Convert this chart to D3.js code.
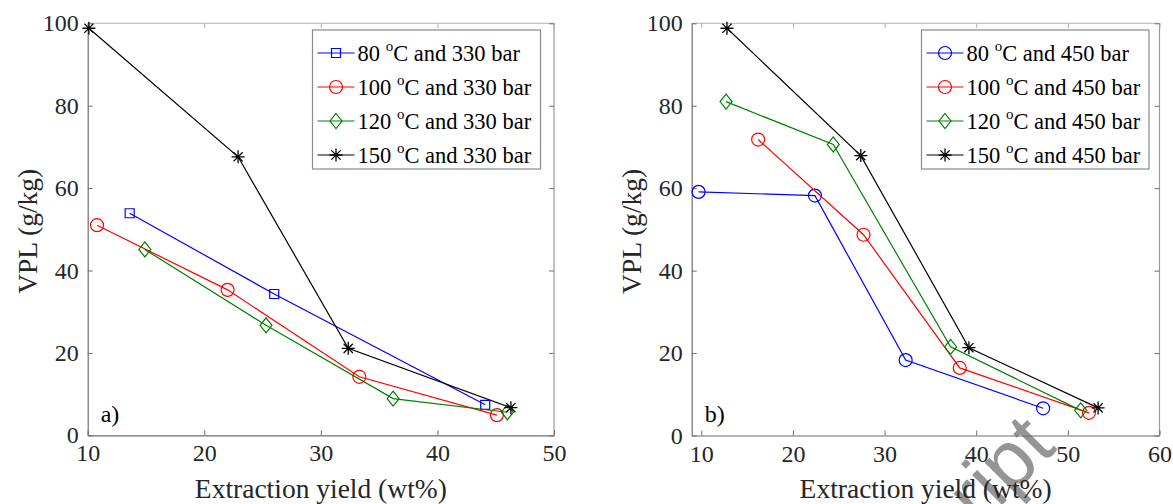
<!DOCTYPE html>
<html>
<head>
<meta charset="utf-8">
<script src="https://cdn.jsdelivr.net/npm/d3@7"></script>
<style>
  body { margin: 0; background: #fff; }
  svg { display: block; }
</style>
</head>
<body>
<div id="chart"></div>
<script>
// VPL vs extraction yield, two pressures (330 bar / 450 bar)

// panel a) 330 bar
const yieldA80 = [13.6, 26.0, 44.1];
const vplA80 = [53.9, 34.3, 7.4];
const yieldA100 = [10.8, 22.0, 33.3, 45.1];
const vplA100 = [51.0, 35.3, 14.2, 4.9];
const yieldA120 = [14.9, 25.3, 36.2, 46.0];
const vplA120 = [45.1, 26.7, 8.9, 5.6];
const yieldA150 = [10.1, 22.9, 32.35, 46.3];
const vplA150 = [98.8, 67.6, 21.1, 6.7];

// panel b) 450 bar
const yieldB80 = [9.7, 22.4, 32.3, 47.3];
const vplB80 = [59.1, 58.2, 18.3, 6.6];
const yieldB100 = [16.2, 27.7, 38.2, 52.3];
const vplB100 = [71.8, 48.7, 16.4, 5.5];
const yieldB120 = [12.7, 24.4, 37.2, 51.4];
const vplB120 = [81.0, 70.6, 21.5, 6.1];
const yieldB150 = [12.8, 27.4, 39.2, 53.3];
const vplB150 = [98.8, 67.9, 21.3, 6.7];

const legendA = ['80', '100', '120', '150'];
const legendB = ['80', '100', '120', '150'];
const xTicksA = [10, 20, 30, 40, 50];
const xTicksB = [10, 20, 30, 40, 50, 60];
const yTicks = [0, 20, 40, 60, 80, 100];

const W = 1173, H = 504;
const serif = "'Liberation Serif', 'DejaVu Serif', serif";

const svg = d3.select('#chart').append('svg')
    .attr('width', W)
    .attr('height', H)
    .attr('font-family', serif);

// faint watermark fragment from the source page (drawn first, sits behind)
svg.append('text')
    .attr('transform', 'translate(1058,449) rotate(-45)')
    .attr('text-anchor', 'end')
    .attr('fill', '#8a8a8a')
    .attr('fill-opacity', 0.9)
    .attr('font-family', "'Liberation Sans', Arial, sans-serif")
    .attr('font-size', 80)
    .text('Manuscript');

function zipSeries(xs, ys) {
    return xs.map((x, i) => ({ x: x, y: ys[i] }));
}

// marker shapes
function markerPath(kind) {
    if (kind === 'diamond') return 'M0,-7.5L6,0L0,7.5L-6,0Z';
    if (kind === 'star') return 'M0,-6.5V6.5M-6.5,0H6.5M-4.6,-4.6L4.6,4.6M-4.6,4.6L4.6,-4.6';
    if (kind === 'square') return 'M-4.5,-4.5H4.5V4.5H-4.5Z';
    return null;
}

function drawMarker(g, kind, color, x, y) {
    if (kind === 'circle') {
        g.append('circle')
            .attr('cx', x).attr('cy', y).attr('r', 6.5)
            .attr('fill', 'none').attr('stroke', color).attr('stroke-width', 1.2);
    } else {
        g.append('path')
            .attr('transform', `translate(${x},${y})`)
            .attr('d', markerPath(kind))
            .attr('fill', 'none').attr('stroke', color)
            .attr('stroke-width', kind === 'star' ? 1.3 : 1.2);
    }
}

function drawPanel(cfg) {
    const x = d3.scaleLinear().domain(cfg.xDomain).range([cfg.left, cfg.right]);
    const y = d3.scaleLinear().domain([0, 100]).range([cfg.bottom, cfg.top]);
    const g = svg.append('g');

    // frame
    g.append('line').attr('x1', cfg.left).attr('x2', cfg.right)
        .attr('y1', cfg.top).attr('y2', cfg.top)
        .attr('stroke', '#c4c4c4').attr('stroke-width', 1.2);
    g.append('line').attr('x1', cfg.right).attr('x2', cfg.right)
        .attr('y1', cfg.top).attr('y2', cfg.bottom)
        .attr('stroke', '#9a9a9a').attr('stroke-width', 1.2);

    // axes via d3 axis, ticks drawn inward
    const xAxis = g.append('g')
        .attr('transform', `translate(0,${cfg.bottom})`)
        .call(d3.axisBottom(x).tickValues(cfg.xTicks).tickSizeInner(-5).tickSizeOuter(0).tickPadding(14));
    const yAxis = g.append('g')
        .attr('transform', `translate(${cfg.left},0)`)
        .call(d3.axisLeft(y).tickValues(yTicks).tickSizeInner(-5).tickSizeOuter(0).tickPadding(9));
    const xTop = g.append('g')
        .attr('transform', `translate(0,${cfg.top})`)
        .call(d3.axisTop(x).tickValues(cfg.xTicks).tickSizeInner(-5).tickSizeOuter(0).tickFormat(''));
    const yRight = g.append('g')
        .attr('transform', `translate(${cfg.right},0)`)
        .call(d3.axisRight(y).tickValues(yTicks).tickSizeInner(-5).tickSizeOuter(0).tickFormat(''));
    xTop.select('.domain').remove();
    yRight.select('.domain').remove();

    [xAxis, yAxis, xTop, yRight].forEach(a => {
        a.attr('font-family', serif).attr('font-size', 24);
        a.selectAll('.domain').attr('stroke', '#6e6e6e').attr('stroke-width', 1.2);
        a.selectAll('.tick line').attr('stroke', '#6e6e6e').attr('stroke-width', 1);
        a.selectAll('text').attr('fill', '#262626');
    });
    xAxis.selectAll('text').attr('dy', '0.5em');
    xTop.selectAll('.tick line').attr('stroke', '#b0b0b0');

    // axis titles
    g.append('text')
        .attr('x', (cfg.left + cfg.right) / 2)
        .attr('y', 498)
        .attr('text-anchor', 'middle')
        .attr('fill', '#262626')
        .attr('font-size', 27.5)
        .text('Extraction yield (wt%)');
    g.append('text')
        .attr('transform', `translate(${cfg.left - 60},${(cfg.top + cfg.bottom) / 2 + 2}) rotate(-90)`)
        .attr('text-anchor', 'middle')
        .attr('dy', '0.35em')
        .attr('fill', '#262626')
        .attr('font-size', 27.5)
        .text('VPL (g/kg)');

    // panel tag
    g.append('text')
        .attr('x', cfg.left + 13)
        .attr('y', 422)
        .attr('fill', '#000')
        .attr('font-size', 24)
        .text(cfg.tag);

    // series
    const line = d3.line().x(d => x(d.x)).y(d => y(d.y));
    cfg.series.forEach(s => {
        const pts = zipSeries(s.xs, s.ys);
        g.append('path')
            .datum(pts)
            .attr('d', line)
            .attr('fill', 'none')
            .attr('stroke', s.color)
            .attr('stroke-width', 1.2);
        pts.forEach(p => drawMarker(g, s.marker, s.color, x(p.x), y(p.y)));
    });

    // legend
    const lg = g.append('g');
    lg.append('rect')
        .attr('x', cfg.legX).attr('y', 30)
        .attr('width', cfg.legW).attr('height', 139)
        .attr('fill', '#fff')
        .attr('stroke', '#8a8a8a').attr('stroke-width', 1.2);
    cfg.series.forEach((s, i) => {
        const ry = 53 + i * 34;
        const lx = cfg.legX + 5;
        lg.append('line')
            .attr('x1', lx).attr('x2', lx + 37)
            .attr('y1', ry).attr('y2', ry)
            .attr('stroke', s.color).attr('stroke-width', 1.2);
        drawMarker(lg, s.marker, s.color, lx + 18.5, ry);
        const t = lg.append('text')
            .attr('x', lx + 40)
            .attr('y', ry + 8)
            .attr('fill', '#000')
            .attr('font-size', 22.5);
        t.append('tspan').text(s.temp + ' ');
        t.append('tspan').attr('dy', -10).attr('font-size', 15).text('o');
        t.append('tspan').attr('dy', 10).text('C and ' + cfg.pressure + ' bar');
    });
}

drawPanel({
    left: 87.7, right: 554, top: 23.3, bottom: 435.3,
    xDomain: [10, 50], xTicks: xTicksA, tag: 'a)', pressure: 330,
    legX: 312.5, legW: 228,
    series: [
        { temp: legendA[0], xs: yieldA80, ys: vplA80, color: '#0000ff', marker: 'square' },
        { temp: legendA[1], xs: yieldA100, ys: vplA100, color: '#ff0000', marker: 'circle' },
        { temp: legendA[2], xs: yieldA120, ys: vplA120, color: '#008000', marker: 'diamond' },
        { temp: legendA[3], xs: yieldA150, ys: vplA150, color: '#000000', marker: 'star' }
    ]
});

drawPanel({
    left: 691.7, right: 1159.5, top: 23.3, bottom: 435.5,
    xDomain: [8.95, 60], xTicks: xTicksB, tag: 'b)', pressure: 450,
    legX: 921.5, legW: 227.5,
    series: [
        { temp: legendB[0], xs: yieldB80, ys: vplB80, color: '#0000ff', marker: 'circle' },
        { temp: legendB[1], xs: yieldB100, ys: vplB100, color: '#ff0000', marker: 'circle' },
        { temp: legendB[2], xs: yieldB120, ys: vplB120, color: '#008000', marker: 'diamond' },
        { temp: legendB[3], xs: yieldB150, ys: vplB150, color: '#000000', marker: 'star' }
    ]
});
</script>
</body>
</html>
